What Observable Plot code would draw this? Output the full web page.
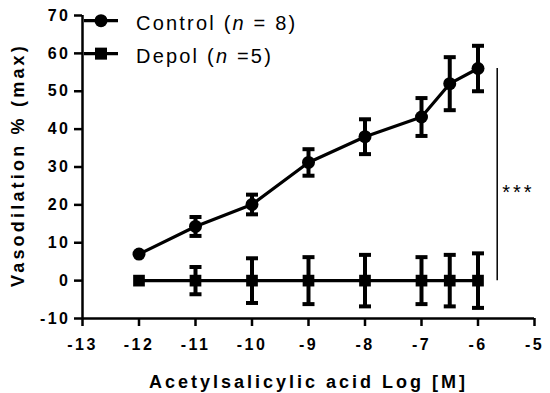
<!DOCTYPE html>
<html>
<head>
<meta charset="utf-8">
<script src="https://cdn.jsdelivr.net/npm/d3@7"></script>
<script src="https://cdn.jsdelivr.net/npm/@observablehq/plot@0.6"></script>
<style>
  html, body { margin: 0; padding: 0; background: #fff; }
  #wrap { position: relative; width: 550px; height: 393px; font-family: "Liberation Sans", Arial, sans-serif; }
  #legend { position: absolute; left: 0; top: 0; pointer-events: none; }
  .ltext { position: absolute; font-size: 20px; letter-spacing: 2.2px; color: #000; white-space: pre; line-height: 1; }
</style>
</head>
<body>
<div id="wrap"></div>
<script>
// ---- data ----
const doses = [-12, -11, -10, -9, -8, -7, -6.5, -6];
const controlMean = [7, 14.3, 20.1, 31.2, 38, 43.2, 52, 56];
const controlSEM  = [0, 2.5, 2.6, 3.5, 4.6, 5, 7, 6];
const depolMean   = [0, 0, 0, 0, 0, 0, 0, 0];
const depolSEM    = [0, 3.6, 5.9, 6.2, 6.8, 6.2, 6.8, 7.2];
const xTicks = [-13, -12, -11, -10, -9, -8, -7, -6, -5];
const yTicks = [-10, 0, 10, 20, 30, 40, 50, 60, 70];
const seriesNames = ["Control", "Depol"];
const seriesN = [8, 5];
const sigX = -5.66;
const sigRange = [0, 56];
const sigLabel = "***";
const xTitle = "Acetylsalicylic acid Log [M]";
const yTitle = "Vasodilation % (max)";

const control = doses.map((d, i) => ({x: d, y: controlMean[i], lo: controlMean[i] - controlSEM[i], hi: controlMean[i] + controlSEM[i]}));
const depol = doses.map((d, i) => ({x: d, y: depolMean[i], lo: depolMean[i] - depolSEM[i], hi: depolMean[i] + depolSEM[i]}));
const capData = [...control, ...depol].filter(d => d.hi > d.lo);

const cap = { draw(ctx) { ctx.moveTo(-6, 0); ctx.lineTo(6, 0); } };
const fmt = d => String(d);

const plot = Plot.plot({
  width: 550,
  height: 393,
  marginLeft: 82,
  marginRight: 16,
  marginTop: 15,
  marginBottom: 75,
  style: { fontFamily: "'Liberation Sans', Arial, sans-serif", fontSize: "16px", fontWeight: "bold", letterSpacing: "2.5px", color: "#000", background: "#fff" },
  x: { domain: [-13, -5], label: null },
  y: { domain: [-10, 70], label: null },
  marks: [
    Plot.axisX({ ticks: xTicks, tickSize: 8, tickPadding: 12, strokeWidth: 2.5, tickFormat: fmt, label: null, fontSize: 16, fontWeight: "bold", fill: "#000", stroke: "#000" }),
    Plot.axisY({ ticks: yTicks, tickSize: 8, tickPadding: 4, strokeWidth: 2.5, tickFormat: fmt, label: null, fontSize: 16, fontWeight: "bold", fill: "#000", stroke: "#000" }),
    Plot.ruleX([-13], { strokeWidth: 2.5 }),
    Plot.ruleY([-10], { strokeWidth: 2.5 }),
    // error bars
    Plot.ruleX(capData, { x: "x", y1: "lo", y2: "hi", strokeWidth: 4, stroke: "#000" }),
    Plot.dot(capData, { x: "x", y: "hi", symbol: cap, fill: "none", stroke: "#000", strokeWidth: 4, r: 6 }),
    Plot.dot(capData, { x: "x", y: "lo", symbol: cap, fill: "none", stroke: "#000", strokeWidth: 4, r: 6 }),
    // lines
    Plot.line(control, { x: "x", y: "y", strokeWidth: 3.2, stroke: "#000" }),
    Plot.line(depol, { x: "x", y: "y", strokeWidth: 3.2, stroke: "#000" }),
    Plot.dot(control, { x: "x", y: "y", r: 6.5, fill: "#000", stroke: "none" }),
    Plot.dot(depol, { x: "x", y: "y", r: 6.6, symbol: "square", fill: "#000", stroke: "none" }),
    // significance
    Plot.ruleX([sigX], { y1: sigRange[0], y2: sigRange[1], strokeWidth: 1.5, stroke: "#000" }),
    Plot.text([sigLabel], { x: sigX, y: (sigRange[0] + sigRange[1]) / 2, text: d => d, textAnchor: "start", dx: 5, dy: 18, fontSize: 20, fontWeight: "normal" }),
    // axis titles
    Plot.text([xTitle], { frameAnchor: "bottom", dy: 69, text: d => d, fontSize: 18, fontWeight: "bold" }),
    Plot.text([yTitle], { frameAnchor: "left", textAnchor: "middle", dx: -64, dy: -2, rotate: -90, text: d => d, fontSize: 18, fontWeight: "bold" })
  ]
});

// letter spacing per text (inherits 2.5px from the svg otherwise)
const spacing = new Map([[xTitle, "3px"], [yTitle, "3.2px"], [sigLabel, "3px"]]);
d3.select(plot).selectAll("text").each(function () {
  const s = spacing.get(this.textContent);
  if (s) this.style.letterSpacing = s;
});

const wrap = document.getElementById("wrap");
wrap.appendChild(plot);

// legend (overlay, positioned with the plot's own scales)
const xs = plot.scale("x"), ys = plot.scale("y");
const legendY = [68.5, 59.8];
const ns = "http://www.w3.org/2000/svg";
const lsvg = document.createElementNS(ns, "svg");
lsvg.setAttribute("width", 550); lsvg.setAttribute("height", 393);
lsvg.setAttribute("id", "legend");
seriesNames.forEach((name, i) => {
  const py = ys.apply(legendY[i]);
  const x0 = xs.apply(-13) + 2, x1 = x0 + 34, xm = (x0 + x1) / 2;
  const ln = document.createElementNS(ns, "line");
  ln.setAttribute("x1", x0); ln.setAttribute("x2", x1); ln.setAttribute("y1", py); ln.setAttribute("y2", py);
  ln.setAttribute("stroke", "#000"); ln.setAttribute("stroke-width", 3.2);
  lsvg.appendChild(ln);
  if (i === 0) {
    const c = document.createElementNS(ns, "circle");
    c.setAttribute("cx", xm); c.setAttribute("cy", py); c.setAttribute("r", 6.5);
    lsvg.appendChild(c);
  } else {
    const r = document.createElementNS(ns, "rect");
    r.setAttribute("x", xm - 6); r.setAttribute("y", py - 6); r.setAttribute("width", 12); r.setAttribute("height", 12);
    lsvg.appendChild(r);
  }
  const t = document.createElement("div");
  t.className = "ltext";
  t.style.left = (x1 + 18) + "px";
  t.style.top = (py - 8) + "px";
  t.innerHTML = i === 0 ? `${name} (<i>n</i> = ${seriesN[i]})` : `${name} (<i>n</i> =${seriesN[i]})`;
  wrap.appendChild(t);
});
wrap.appendChild(lsvg);
</script>
</body>
</html>
